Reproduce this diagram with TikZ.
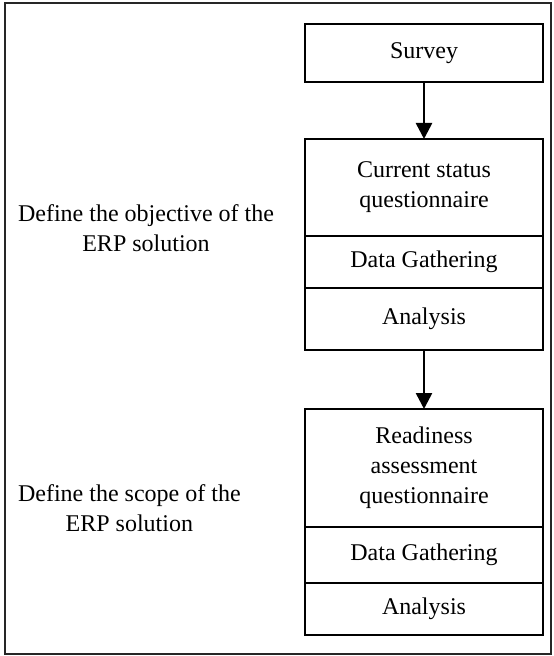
\documentclass[tikz,border=0pt]{standalone}
\usepackage{fontspec}
\setmainfont{Liberation Serif}
\usetikzlibrary{arrows.meta,positioning}
\tikzset{
  stage/.style={draw, line width=1pt, outer sep=0pt, minimum width=119pt,
    align=center, font=\fontsize{12}{15}\selectfont},
  note/.style={align=center, font=\fontsize{12}{15}\selectfont},
  flow/.style={-{Triangle[length=8pt, width=8pt]}, line width=1.3pt},
  frame/.style={draw=black!85, line width=0.9pt},
}
\begin{document}
\begin{tikzpicture}[x=0.5pt, y=-0.5pt]

  \useasboundingbox (0,0) rectangle (553,656);

  % Outer border
  \draw[frame] (5,3) rectangle (551,654);

  % Survey
  \node[stage, minimum height=29pt] (survey) at (424,53) {Survey};

  % First block: current status
  \node[stage, minimum height=48.5pt, anchor=north] (status) at (424,139) {Current status\\questionnaire};
  \node[stage, minimum height=26pt, below=0pt of status] (gather1) {Data Gathering};
  \node[stage, minimum height=31pt, below=0pt of gather1] (analysis1) {Analysis};

  % Second block: readiness
  \node[stage, minimum height=59pt, anchor=north] (readiness) at (424,409) {Readiness\\assessment\\questionnaire};
  \node[stage, minimum height=28pt, below=0pt of readiness] (gather2) {Data Gathering};
  \node[stage, minimum height=26pt, below=0pt of gather2] (analysis2) {Analysis};

  % Arrows
  \draw[flow] (survey) -- (status);
  \draw[flow] (analysis1) -- (readiness);

  % Left labels
  \node[note, anchor=west] (objective) at (11,228) {Define the objective of the\\ERP solution};
  \node[note, anchor=west] (scope) at (11,508) {Define the scope of the\\ERP solution};

\end{tikzpicture}
\end{document}
